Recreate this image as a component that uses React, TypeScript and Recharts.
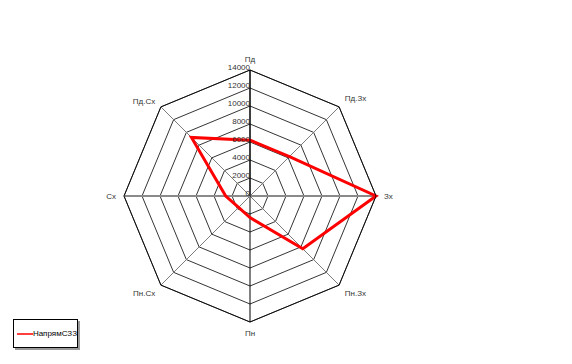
import React from 'react';
import { RadarChart, Radar, PolarGrid, PolarAngleAxis, PolarRadiusAxis, Legend } from 'recharts';

const directions = ['Пд', 'Пд.Зх', 'Зх', 'Пн.Зх', 'Пн', 'Пн.Сх', 'Сх', 'Пд.Сх'];
const napryamValues = [6200, 6200, 14000, 8300, 2400, 1800, 2700, 9200];
const radiusTicks = [0, 2000, 4000, 6000, 8000, 10000, 12000, 14000];

const data = directions.map((d, i) => ({ dir: d, value: napryamValues[i] }));

const font = '"Liberation Sans", Arial, sans-serif';

// gray spokes, thick gray horizontal, black vertical
const css = `
.radar-wrap .recharts-polar-grid-angle line { stroke: #7a7a7a; stroke-width: 1; }
.radar-wrap .recharts-polar-grid-angle line:nth-child(3),
.radar-wrap .recharts-polar-grid-angle line:nth-child(7) { stroke: #8a8a8a; stroke-width: 2; }
.radar-wrap .recharts-polar-grid-angle line:nth-child(1),
.radar-wrap .recharts-polar-grid-angle line:nth-child(5) { stroke: #000; stroke-width: 1; }
`;

const LegendBox = (props: any) => {
  const item = props.payload && props.payload[0];
  return (
    <div
      style={{
        width: 65,
        height: 29,
        border: '1px solid #000',
        boxShadow: '2px 2px 0 #9a9a9a',
        background: '#fff',
        display: 'flex',
        alignItems: 'center',
        fontFamily: font,
        fontSize: 8,
        color: '#000',
        boxSizing: 'border-box',
      }}
    >
      <svg width={20} height={6} style={{ marginLeft: 3 }}>
        <line x1={0} y1={3} x2={16} y2={3} stroke="#ff0000" strokeWidth={1.5} />
      </svg>
      <span style={{ marginLeft: -2 }}>{item ? item.value : ''}</span>
    </div>
  );
};

const App: React.FC = () => (
  <div className="radar-wrap" style={{ position: 'absolute', left: 0, top: 0, width: 572, height: 364, background: '#fff' }}>
    <style>{css}</style>
    <RadarChart width={572} height={364} data={data} cx={250} cy={196} outerRadius={126}>
      <PolarGrid gridType="polygon" radialLines={true} stroke="#000" strokeWidth={0.8} />
      <PolarAngleAxis
        dataKey="dir"
        axisLine={{ stroke: '#000', strokeWidth: 0.8 }}
        tickLine={{ stroke: 'none' }}
        tick={{ fontSize: 8, fill: '#333', fontFamily: font }}
      />
      <PolarRadiusAxis
        angle={90}
        domain={[0, 14000]}
        ticks={radiusTicks}
        tickCount={8}
        orientation="left"
        axisLine={{ stroke: '#000', strokeWidth: 1 }}
        tickLine={false}
        tick={{ fontSize: 8, fill: '#333', fontFamily: font }}
      />
      <Radar
        name="НапрямСЗЗ"
        dataKey="value"
        stroke="#ff0000"
        strokeWidth={3}
        fill="none"
        fillOpacity={0}
        dot={false}
        isAnimationActive={false}
      />
      <Legend
        content={<LegendBox />}
        wrapperStyle={{ position: 'absolute', left: 13, top: 319, width: 65, height: 29, bottom: 'auto' }}
      />
    </RadarChart>
  </div>
);

export default App;
